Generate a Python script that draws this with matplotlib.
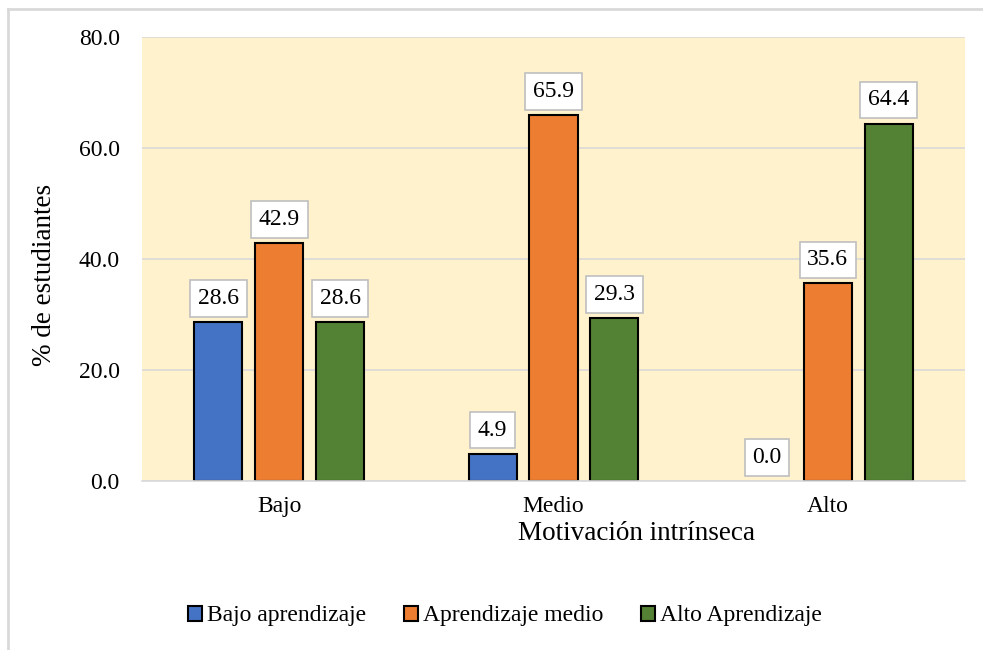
import matplotlib.pyplot as plt
from matplotlib.lines import Line2D
import numpy as np

plt.rcParams['font.family'] = ['Liberation Serif', 'DejaVu Serif']

categorias = ['Bajo', 'Medio', 'Alto']
series = ['Bajo aprendizaje', 'Aprendizaje medio', 'Alto Aprendizaje']
bajo_aprendizaje = [28.6, 4.9, 0.0]
aprendizaje_medio = [42.9, 65.9, 35.6]
alto_aprendizaje = [28.6, 29.3, 64.4]
colores = ['#4472C4', '#ED7D31', '#548235']

fig = plt.figure(figsize=(9.83, 6.5), dpi=100)
# marco exterior (solo se ve arriba e izquierda)
fig.lines.append(Line2D([8 / 983, 8 / 983], [0, 1 - 9 / 650], transform=fig.transFigure,
                        color='#d9d9d9', linewidth=2))
fig.lines.append(Line2D([8 / 983, 1], [1 - 9 / 650, 1 - 9 / 650], transform=fig.transFigure,
                        color='#d9d9d9', linewidth=2))
ax = fig.add_axes([142 / 983, 1 - 481 / 650, 823 / 983, 444 / 650])
ax.set_facecolor('#FFF2CC')

x = np.arange(len(categorias))
ancho = 0.175
paso = 0.222
valores = [bajo_aprendizaje, aprendizaje_medio, alto_aprendizaje]
for i, (vals, nombre, c) in enumerate(zip(valores, series, colores)):
    pos = x + (i - 1) * paso
    lws = [1.5 if v > 0 else 0 for v in vals]
    ax.bar(pos, vals, ancho, color=c, edgecolor='black', linewidth=lws,
           label=nombre, zorder=3)
    for xp, v in zip(pos, vals):
        ax.annotate(f'{v:.1f}', (xp, v), xytext=(0, 17), textcoords='offset points',
                    ha='center', va='center', fontsize=17, zorder=4,
                    bbox=dict(boxstyle='square,pad=0.33', fc='white', ec='#bfbfbf', lw=1.2))

ax.set_xlim(-0.5, 2.5)
ax.set_ylim(0, 80)
ax.set_yticks([0, 20, 40, 60, 80])
ax.set_yticklabels([f'{t:.1f}' for t in [0, 20, 40, 60, 80]])
ax.set_xticks(x)
ax.set_xticklabels(categorias)
ax.tick_params(axis='both', length=0, labelsize=17)
ax.tick_params(axis='y', pad=16)
ax.tick_params(axis='x', pad=11)
ax.yaxis.grid(True, color='#d9d9d9', linewidth=1.2, zorder=1)
ax.set_axisbelow(True)
for s in ['top', 'right', 'left']:
    ax.spines[s].set_visible(False)
ax.spines['bottom'].set_color('#d9d9d9')
ax.spines['bottom'].set_linewidth(1.2)
ax.spines['bottom'].set_zorder(5)

fig.text(45 / 983, 1 - 275 / 650, '% de estudiantes', rotation=90,
         ha='center', va='center', fontsize=19.5)
fig.text(636 / 983, 1 - 533 / 650, 'Motivación intrínseca',
         ha='center', va='center', fontsize=19.5)

fig.legend(loc='center', bbox_to_anchor=(505 / 983, 1 - 616 / 650), ncol=3,
           frameon=False, fontsize=17, handlelength=0.6, handleheight=0.6,
           handletextpad=0.2, columnspacing=1.6)

fig.savefig('out.png', dpi=100)
